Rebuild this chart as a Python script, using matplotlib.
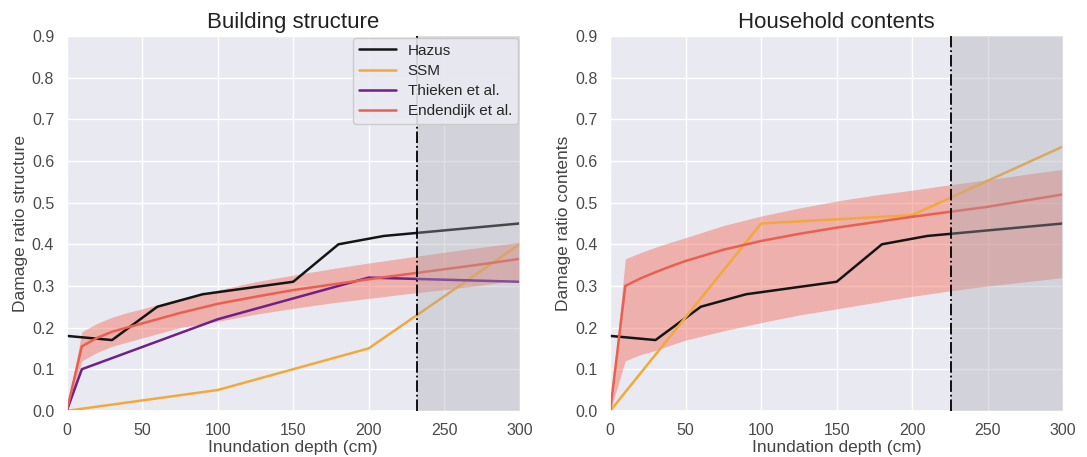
import matplotlib
matplotlib.use("Agg")
import matplotlib.pyplot as plt
import seaborn as sns
import numpy as np

# depth grid in cm
depth_hazus = np.array([0, 30, 60, 90, 120, 150, 180, 210, 240, 270, 300])
hazus = np.array([0.18, 0.17, 0.25, 0.28, 0.295, 0.31, 0.40, 0.42, 0.43, 0.44, 0.45])

depth_ssm_struct = np.array([0, 50, 100, 150, 200, 300])
ssm_struct = np.array([0.0, 0.025, 0.05, 0.10, 0.15, 0.40])

depth_ssm_cont = np.array([0, 100, 200, 300])
ssm_cont = np.array([0.0, 0.45, 0.47, 0.635])

depth_thieken = np.array([0, 10, 100, 200, 300])
thieken_struct = np.array([0.0, 0.10, 0.22, 0.32, 0.31])

depth_end = np.array([0, 10, 20, 30, 40, 50, 75, 100, 125, 150, 175, 200, 225, 250, 275, 300])
end_struct = np.array([0.0, 0.155, 0.175, 0.19, 0.20, 0.21, 0.235, 0.257, 0.274, 0.29, 0.303,
                       0.316, 0.328, 0.34, 0.352, 0.365])
end_struct_lo = np.array([0.0, 0.12, 0.14, 0.155, 0.165, 0.175, 0.20, 0.215, 0.232, 0.246, 0.259,
                          0.27, 0.281, 0.291, 0.302, 0.315])
end_struct_hi = np.array([0.0, 0.19, 0.21, 0.225, 0.236, 0.245, 0.27, 0.29, 0.31, 0.326, 0.341,
                          0.355, 0.368, 0.381, 0.393, 0.405])
end_cont = np.array([0.0, 0.30, 0.318, 0.333, 0.347, 0.36, 0.387, 0.408, 0.425, 0.44, 0.453,
                     0.466, 0.478, 0.49, 0.505, 0.52])
end_cont_lo = np.array([0.0, 0.12, 0.135, 0.145, 0.158, 0.17, 0.192, 0.212, 0.23, 0.245, 0.26,
                        0.275, 0.288, 0.30, 0.31, 0.32])
end_cont_hi = np.array([0.0, 0.365, 0.38, 0.393, 0.405, 0.416, 0.445, 0.468, 0.487, 0.504, 0.518,
                        0.53, 0.543, 0.555, 0.568, 0.58])

cutoff_struct = 232
cutoff_cont = 226

c_hazus = "#151515"
c_ssm = "#F2A93B"
c_thieken = "#70208A"
c_end = "#E8604F"

sns.set_theme(style="darkgrid")
plt.rcParams["font.family"] = ["Liberation Sans", "DejaVu Sans"]

fig, (ax1, ax2) = plt.subplots(1, 2, figsize=(10.87, 4.57), dpi=100)
fig.subplots_adjust(left=0.0614, right=0.978, bottom=0.101, top=0.921, wspace=0.2)

panels = [
    (ax1, "Building structure", "Damage ratio structure", cutoff_struct,
     depth_ssm_struct, ssm_struct, end_struct, end_struct_lo, end_struct_hi, True),
    (ax2, "Household contents", "Damage ratio contents", cutoff_cont,
     depth_ssm_cont, ssm_cont, end_cont, end_cont_lo, end_cont_hi, False),
]

for ax, title, ylabel, cutoff, dssm, ssm, end, lo, hi, show_thieken in panels:
    ax.set_facecolor("#E9EAF1")
    ax.plot(depth_hazus, hazus, color=c_hazus, lw=1.8, label="Hazus")
    ax.plot(dssm, ssm, color=c_ssm, lw=1.8, label="SSM")
    if show_thieken:
        ax.plot(depth_thieken, thieken_struct, color=c_thieken, lw=1.8, label="Thieken et al.")
    ax.plot(depth_end, end, color=c_end, lw=1.8, label="Endendijk et al.")
    ax.fill_between(depth_end, lo, hi, color="#F26B5B", alpha=0.45, lw=0)

    # region beyond the cut-off depth
    ax.axvspan(cutoff, 300, color="#a8a8b0", alpha=0.35, lw=0, zorder=3)
    ax.axvline(cutoff, color="black", ls="-.", lw=1.3, zorder=4)

    ax.set_xlim(0, 300)
    ax.set_ylim(0, 0.9)
    ax.set_xticks(np.arange(0, 301, 50))
    ax.set_yticks(np.arange(0, 0.91, 0.1))
    ax.set_yticklabels([f"{v:.1f}" for v in np.arange(0, 0.91, 0.1)])
    ax.tick_params(labelsize=11.5, colors="#4a4a4a", pad=3)
    ax.set_title(title, fontsize=16, color="#222222", pad=6)
    ax.set_xlabel("Inundation depth (cm)", fontsize=12.5, color="#444444", labelpad=1)
    ax.set_ylabel(ylabel, fontsize=12.5, color="#444444", labelpad=3)

leg = ax1.legend(loc="upper right", fontsize=11, borderaxespad=0.1, handlelength=2.4,
                 labelspacing=0.4, framealpha=0.9, edgecolor="#c8c8c8")
leg.set_zorder(10)

fig.savefig("out.png", dpi=100)
